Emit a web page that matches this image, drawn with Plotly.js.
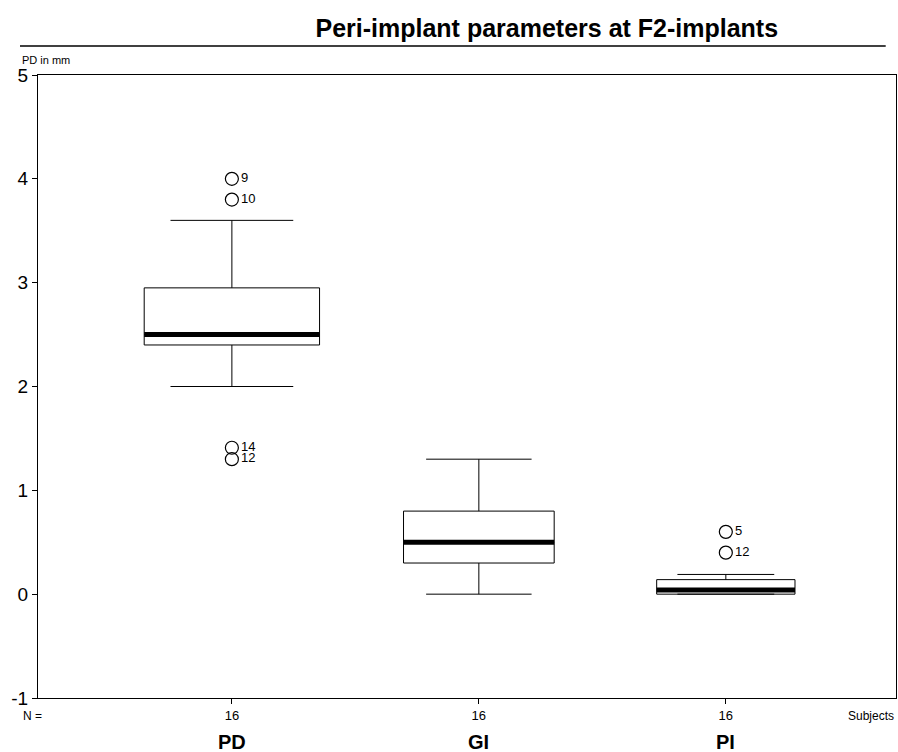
<!DOCTYPE html>
<html><head><meta charset="utf-8">
<script src="https://cdn.plot.ly/plotly-3.0.1.min.js"></script>
<style>html,body{margin:0;padding:0;background:#fff}#chart{width:898px;height:752px}</style>
</head><body><div id="chart"></div>
<script>
// Data
const categories = ['PD', 'GI', 'PI'];
const nSubjects = [16, 16, 16];
const q1 = [2.4, 0.3, 0.0];
const median = [2.5, 0.5, 0.04];
const q3 = [2.95, 0.8, 0.14];
const lowerFence = [2.0, 0.0, 0.0];
const upperFence = [3.6, 1.3, 0.19];
const outlierCat = [0, 0, 0, 0, 2, 2];
const outlierVal = [4.0, 3.8, 1.41, 1.3, 0.6, 0.4];
const outlierLabel = ['9', '10', '14', '12', '5', '12'];
const yTicks = [-1, 0, 1, 2, 3, 4, 5];
const yTickText = ['-1', '0', '1', '2', '3', '4', '5'];

const boxWidths = [0.71, 0.61, 0.56];
const font = 'Liberation Sans, Arial, sans-serif';

const traces = [];
categories.forEach((c, i) => {
  traces.push({
    type: 'box', x: [i], q1: [q1[i]], median: [median[i]], q3: [q3[i]],
    lowerfence: [lowerFence[i]], upperfence: [upperFence[i]],
    width: boxWidths[i], whiskerwidth: 0.7, boxpoints: false,
    fillcolor: '#ffffff', line: {color: '#000000', width: 1},
    showlegend: false, hoverinfo: 'skip'
  });
  traces.push({
    type: 'scatter', mode: 'lines',
    x: [i - boxWidths[i] / 2, i + boxWidths[i] / 2], y: [median[i], median[i]],
    line: {color: '#000000', width: 5}, showlegend: false, hoverinfo: 'skip'
  });
});
traces.push({
  type: 'scatter', mode: 'markers+text',
  x: outlierCat, y: outlierVal, text: outlierLabel,
  textposition: 'middle right',
  textfont: {family: font, size: 13, color: '#000'},
  marker: {symbol: 'circle-open', size: 13, color: '#000', line: {width: 1.2, color: '#000'}},
  showlegend: false, hoverinfo: 'skip'
});

const annotations = [
  {text: 'PD in mm', xref: 'paper', yref: 'paper', x: -0.02, y: 1.013, xanchor: 'left', yanchor: 'bottom', showarrow: false, borderpad: 0, font: {family: font, size: 11, color: '#000'}},
  {text: 'N =', xref: 'paper', yref: 'paper', x: -0.02, y: -0.029, xanchor: 'left', yanchor: 'middle', showarrow: false, font: {family: font, size: 12, color: '#000'}},
  {text: 'Subjects', xref: 'paper', yref: 'paper', x: 1.0, y: -0.029, xanchor: 'right', yanchor: 'middle', showarrow: false, font: {family: font, size: 12, color: '#000'}}
];
categories.forEach((c, i) => {
  annotations.push({text: '<b>' + c + '</b>', xref: 'x', yref: 'paper', x: i, y: -0.071, xanchor: 'center', yanchor: 'middle', showarrow: false, font: {family: font, size: 20, color: '#000'}});
});

const layout = {
  width: 898, height: 752,
  margin: {l: 38, r: 2, t: 75, b: 54},
  paper_bgcolor: '#fff', plot_bgcolor: '#fff',
  title: {text: '<b>Peri-implant parameters at F2-implants</b>', font: {family: font, size: 25, color: '#000'},
          xref: 'paper', x: 0.593, xanchor: 'center', yref: 'container', y: 0.962, yanchor: 'middle'},
  xaxis: {range: [-0.785, 2.689], tickvals: [0, 1, 2], ticktext: nSubjects.map(String),
          ticks: 'outside', ticklen: 5, tickcolor: '#000', showgrid: false, zeroline: false,
          showline: true, linecolor: '#000', linewidth: 1, mirror: true,
          tickfont: {family: font, size: 13, color: '#000'}},
  yaxis: {range: [-1, 5], tickvals: yTicks, ticktext: yTickText, ticks: 'outside', ticklen: 5, tickcolor: '#000',
          showgrid: false, zeroline: false, showline: true, linecolor: '#000', linewidth: 1, mirror: true,
          tickfont: {family: font, size: 19, color: '#000'}},
  shapes: [{type: 'line', xref: 'paper', yref: 'paper', x0: -0.021, x1: 0.988, y0: 1.0465, y1: 1.0465,
            line: {color: '#000', width: 1.5}}],
  annotations: annotations
};
Plotly.newPlot('chart', traces, layout, {displayModeBar: false, staticPlot: true});
</script></body></html>
